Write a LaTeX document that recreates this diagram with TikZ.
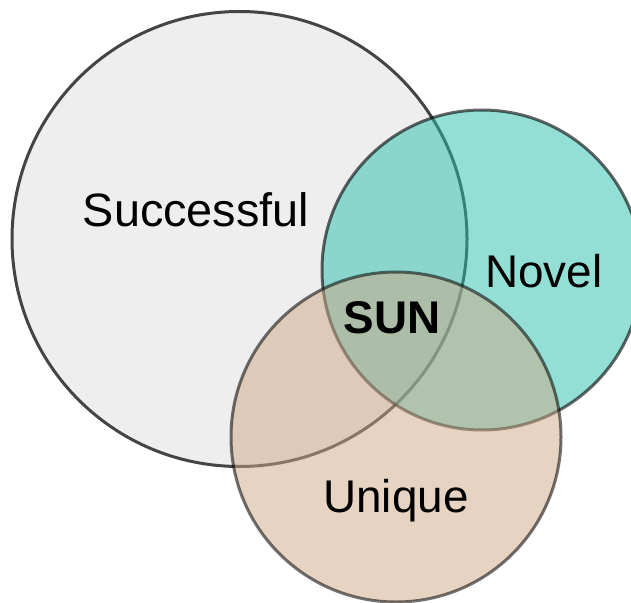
\documentclass[tikz,border=0pt]{standalone}
\usepackage{fontspec}
\setmainfont{Liberation Sans}
\usetikzlibrary{positioning}
\definecolor{succfill}{HTML}{EEEEEE}
\definecolor{succline}{HTML}{444444}
\definecolor{novelfill}{HTML}{29BFAB}
\definecolor{uniqfill}{HTML}{CDA785}

\tikzset{
  setcircle/.style={circle, inner sep=0pt, line width=3bp},
  settext/.style={anchor=base, inner sep=0pt, font=\fontsize{46}{50}\selectfont},
}

\begin{document}
\begin{tikzpicture}[x=1bp, y=-1bp]
    \useasboundingbox (0,0) rectangle (631,603);
    \clip (0,0) rectangle (631,603);
    % the three sets
    \node(succ) [setcircle, draw=succline, fill=succfill, minimum size=455bp] at (239.5,239) {};
    \node(novel) [setcircle, draw=black, draw opacity=0.6, fill=novelfill, fill opacity=0.5, minimum size=320bp] at (482,270) {};
    \node(uniq) [setcircle, draw=black, draw opacity=0.55, fill=uniqfill, fill opacity=0.5, minimum size=330bp] at (396,437) {};
    % labels
    \node(succlabel) [settext, font=\fontsize{47}{50}\selectfont] at (196,226) {Successful};
    \node(novellabel) [settext] at (544,287) {Novel};
    \node(sunlabel) [settext, font=\fontsize{46}{50}\selectfont\bfseries] at (392,333) {SUN};
    \node(uniqlabel) [settext] at (396,512) {Unique};
\end{tikzpicture}
\end{document}
